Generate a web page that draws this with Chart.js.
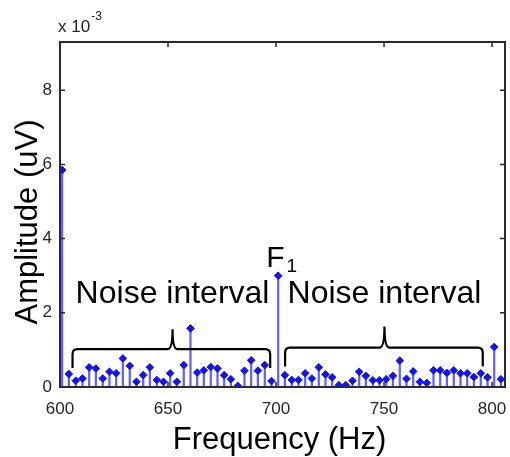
<!DOCTYPE html>
<html>
<head>
<meta charset="utf-8">
<title>Spectrum 600-800 Hz</title>
<style>
  html, body { margin: 0; padding: 0; background: #fff; }
</style>
<script src="https://cdn.jsdelivr.net/npm/chart.js@4/dist/chart.umd.min.js"></script>
</head>
<body>
<canvas id="spectrum" width="510" height="457"></canvas>
<script>
// frequency bins (Hz) and amplitude at each bin (x 10^-3 uV)
const freqHz = [
  601.0, 604.1, 607.3, 610.4, 613.5, 616.6, 619.8, 622.9, 626.0, 629.1,
  632.3, 635.4, 638.5, 641.6, 644.8, 647.9, 651.0, 654.1, 657.3, 660.4,
  663.5, 666.6, 669.8, 672.9, 676.0, 679.1, 682.3, 685.4, 688.5, 691.6,
  694.8, 697.9, 701.0, 704.1, 707.3, 710.4, 713.5, 716.6, 719.8, 722.9,
  726.0, 729.1, 732.3, 735.4, 738.5, 741.6, 744.8, 747.9, 751.0, 754.1,
  757.3, 760.4, 763.5, 766.6, 769.8, 772.9, 776.0, 779.1, 782.3, 785.4,
  788.5, 791.6, 794.8, 797.9, 801.0, 804.1
];
const amplitude = [
  5.85, 0.35, 0.17, 0.23, 0.53, 0.50, 0.23, 0.41, 0.37, 0.77,
  0.57, 0.14, 0.32, 0.53, 0.19, 0.14, 0.37, 0.14, 0.59, 1.58,
  0.39, 0.45, 0.54, 0.50, 0.32, 0.21, 0.03, 0.44, 0.72, 0.44,
  0.59, 0.16, 3.00, 0.32, 0.19, 0.19, 0.37, 0.23, 0.53, 0.34,
  0.26, 0.05, 0.05, 0.17, 0.41, 0.30, 0.18, 0.18, 0.21, 0.30,
  0.71, 0.22, 0.42, 0.14, 0.11, 0.45, 0.45, 0.38, 0.45, 0.37,
  0.37, 0.27, 0.37, 0.26, 1.08, 0.21
];
const xTicks = [600, 650, 700, 750, 800];
const yTicks = [0, 2, 4, 6, 8];

// bracketed noise bands either side of the F1 peak (Hz)
const noiseBands = [
  { from: 605.8, to: 697.3, mid: 652.1, label: 'Noise interval' },
  { from: 704.2, to: 795.7, mid: 750.2, label: 'Noise interval' }
];
const peakHz = 701.0;

const FONT = '"Liberation Sans", Arial, Helvetica, sans-serif';
const points = freqHz.map((f, i) => ({ x: f, y: amplitude[i] }));

function drawBrace(ctx, x, y, band, yLine, yEnd, yTip) {
  const x1 = x.getPixelForValue(band.from);
  const x2 = x.getPixelForValue(band.to);
  const xm = x.getPixelForValue(band.mid);
  const yl = y.getPixelForValue(yLine);
  const ye = y.getPixelForValue(yEnd);
  const yt = y.getPixelForValue(yTip);
  const r = 5;
  ctx.beginPath();
  ctx.moveTo(x1, ye);
  ctx.lineTo(x1, yl + r);
  ctx.quadraticCurveTo(x1, yl, x1 + r, yl);
  ctx.lineTo(xm - 5, yl);
  ctx.quadraticCurveTo(xm, yl, xm, yt);
  ctx.quadraticCurveTo(xm, yl, xm + 5, yl);
  ctx.lineTo(x2 - r, yl);
  ctx.quadraticCurveTo(x2, yl, x2, yl + r);
  ctx.lineTo(x2, ye);
  ctx.stroke();
}

const decorations = {
  id: 'decorations',
  afterDraw(chart) {
    const { ctx, chartArea: a } = chart;
    const x = chart.scales.x, y = chart.scales.y;
    ctx.save();

    // axes box with inward ticks on all four sides
    ctx.strokeStyle = '#2b2b2b';
    ctx.lineWidth = 2;
    ctx.strokeRect(a.left, a.top, a.right - a.left, a.bottom - a.top);
    ctx.lineWidth = 1.5;
    ctx.beginPath();
    xTicks.forEach(v => {
      const px = x.getPixelForValue(v);
      ctx.moveTo(px, a.bottom); ctx.lineTo(px, a.bottom - 5);
      ctx.moveTo(px, a.top); ctx.lineTo(px, a.top + 5);
    });
    yTicks.forEach(v => {
      const py = y.getPixelForValue(v);
      ctx.moveTo(a.left, py); ctx.lineTo(a.left + 5, py);
      ctx.moveTo(a.right, py); ctx.lineTo(a.right - 5, py);
    });
    ctx.stroke();

    // exponent label
    ctx.fillStyle = '#222';
    ctx.textBaseline = 'alphabetic';
    ctx.textAlign = 'left';
    ctx.font = '17px ' + FONT;
    ctx.fillText('x 10', a.left - 2, a.top - 10);
    const w = ctx.measureText('x 10').width;
    ctx.font = '12px ' + FONT;
    ctx.fillText('-3', a.left - 1 + w, a.top - 22);

    // noise braces and labels
    ctx.strokeStyle = '#000';
    ctx.lineWidth = 2.2;
    drawBrace(ctx, x, y, noiseBands[0], 1.02, 0.51, 1.56);
    drawBrace(ctx, x, y, noiseBands[1], 1.06, 0.55, 1.63);
    ctx.fillStyle = '#000';
    ctx.textAlign = 'center';
    ctx.font = '32px ' + FONT;
    noiseBands.forEach(b => {
      ctx.fillText(b.label, x.getPixelForValue(b.mid), y.getPixelForValue(2.26));
    });

    // F1 peak label
    ctx.textAlign = 'left';
    ctx.font = '30px ' + FONT;
    const fx = x.getPixelForValue(peakHz) - 12;
    const fy = y.getPixelForValue(3.24);
    ctx.fillText('F', fx, fy);
    const fw = ctx.measureText('F').width;
    ctx.font = '19px ' + FONT;
    ctx.fillText('1', fx + fw + 2, fy + 5);

    // axis titles
    ctx.font = '31px ' + FONT;
    ctx.textAlign = 'center';
    ctx.fillText('Frequency (Hz)', (a.left + a.right) / 2 - 3, 449);
    ctx.translate(37, 222);
    ctx.rotate(-Math.PI / 2);
    ctx.fillText('Amplitude (uV)', 0, 0);
    ctx.restore();
  }
};

new Chart(document.getElementById('spectrum'), {
  type: 'bar',
  data: {
    datasets: [
      {
        type: 'line',
        data: points,
        showLine: false,
        pointStyle: 'rectRot',
        pointRadius: 3.8,
        pointBackgroundColor: '#1212f2',
        pointBorderColor: '#1212f2',
        pointBorderWidth: 1
      },
      {
        type: 'bar',
        data: points,
        backgroundColor: 'rgba(70, 70, 255, 0.85)',
        borderWidth: 0,
        barThickness: 1.6,
        grouped: false
      }
    ]
  },
  options: {
    responsive: false,
    animation: false,
    layout: { padding: { top: 42, right: 2, left: 0, bottom: 0 } },
    plugins: { legend: { display: false }, tooltip: { enabled: false } },
    scales: {
      x: {
        type: 'linear',
        min: 600,
        max: 806,
        offset: false,
        grid: { display: false, drawTicks: false },
        border: { display: false },
        afterBuildTicks: s => { s.ticks = xTicks.map(v => ({ value: v })); },
        afterFit: s => { s.height = 70; s.paddingLeft = 0; s.paddingRight = 0; },
        ticks: {
          padding: 12,
          color: '#262626',
          font: { family: FONT, size: 17 }
        }
      },
      y: {
        min: 0,
        max: 9.3,
        grid: { display: false, drawTicks: false },
        border: { display: false },
        afterBuildTicks: s => { s.ticks = yTicks.map(v => ({ value: v })); },
        afterFit: s => { s.width = 60; s.paddingTop = 0; s.paddingBottom = 0; },
        ticks: {
          padding: 8,
          color: '#262626',
          font: { family: FONT, size: 17 }
        }
      }
    }
  },
  plugins: [decorations]
});
</script>
</body>
</html>
